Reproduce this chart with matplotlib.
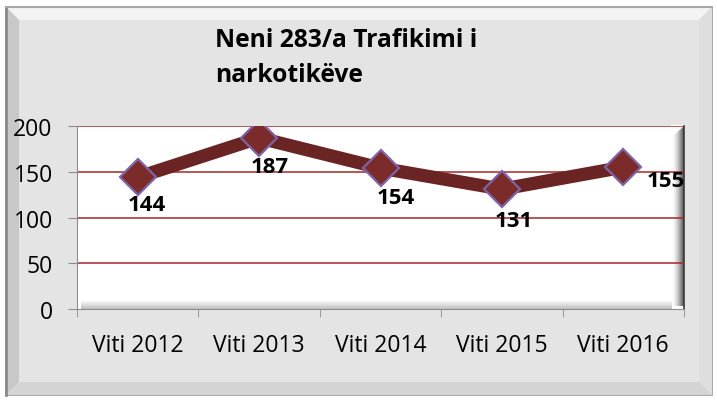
import matplotlib.pyplot as plt
from matplotlib.patches import Rectangle, Polygon
import numpy as np

categories = ["Viti 2012", "Viti 2013", "Viti 2014", "Viti 2015", "Viti 2016"]
values = [144, 187, 154, 131, 155]
yticks = [0, 50, 100, 150, 200]
title_lines = ["Neni 283/a Trafikimi i", "narkotikëve"]
# value-label offsets from each marker, in pixels (right, up)
label_offsets = [(9, -27), (11, -29), (15, -29), (12, -31), (43, -13)]

plt.rcParams['font.family'] = ['Open Sans', 'DejaVu Sans']

W, H = 717, 402
fig = plt.figure(figsize=(W / 100, H / 100), dpi=100)
fig.patch.set_facecolor('white')

# background layer in pixel coordinates (y down) for the bevelled frame
bg = fig.add_axes([0, 0, 1, 1], zorder=-10)
bg.axis('off')

L, T, R, B = 6, 8, 712, 396
bw = 13
bg.add_patch(Rectangle((L, T), R - L, B - T, facecolor='#e4e4e4', edgecolor='#9a9a9a', lw=1.2))
bg.add_patch(Polygon([(L, T), (R, T), (R - bw, T + bw), (L + bw, T + bw)], facecolor='#f3f3f3', edgecolor='none'))
bg.add_patch(Polygon([(L, T), (L + bw, T + bw), (L + bw, B - bw), (L, B)], facecolor='#c8c8c8', edgecolor='none'))
bg.add_patch(Polygon([(R, T), (R, B), (R - bw, B - bw), (R - bw, T + bw)], facecolor='#dedede', edgecolor='none'))
bg.add_patch(Polygon([(L, B), (R, B), (R - bw, B - bw), (L + bw, B - bw)], facecolor='#d4d4d4', edgecolor='none'))
bg.plot([L, L], [T, B], color='#8a8a8a', lw=2)
bg.plot([L, R], [T, T], color='#a8a8a8', lw=1.5)

# plot area in pixels
px0, px1, py0, py1 = 77, 684, 127, 310
wall = 12
bg.add_patch(Rectangle((px0, py0), px1 - px0, py1 - py0, facecolor='white', edgecolor='none'))
# right wall shading
grad = np.linspace(0, 1, 64)[None, :] ** 1.6
bg.imshow(np.dstack([1 - 0.7 * grad] * 3), extent=(px1 - wall, px1, py1 - 3, py0),
          aspect='auto', interpolation='bilinear', zorder=2)
bg.add_patch(Polygon([(px1 - wall - 1, py0 - 1), (px1 + 1, py0 - 1), (px1 - wall - 1, py0 + wall)],
                     facecolor='white', edgecolor='none', zorder=2.5))
bg.plot([px1, px1], [py0, py1], color='#3a3a3a', lw=1.2, zorder=3)
# floor shading
gradb = np.linspace(0, 1, 16)[:, None]
bg.imshow(np.dstack([np.repeat(1 - 0.25 * gradb, 4, axis=1)] * 3),
          extent=(px0 + 4, px1 - wall, py1, py1 - 9), aspect='auto', interpolation='bilinear', zorder=2)
bg.set_xlim(0, W)
bg.set_ylim(H, 0)

ax = fig.add_axes([px0 / W, 1 - py1 / H, (px1 - px0) / W, (py1 - py0) / H], zorder=1)
ax.patch.set_alpha(0)

x = np.arange(len(categories))
ax.set_xlim(-0.5, len(categories) - 0.5)
ax.set_ylim(0, 200)

for yv in yticks[1:]:
    ax.axhline(yv, color='#a0282a', lw=1.1, zorder=1)

ax.plot(x, values, color='#6a2424', lw=9.5, solid_joinstyle='miter', zorder=3)
ax.plot(x, values, linestyle='none', marker='D', markersize=18.5,
        markerfacecolor='#7b2c2a', markeredgecolor='#7e64a6', markeredgewidth=1.6, zorder=4)

for xi, v, (dx, dy) in zip(x, values, label_offsets):
    ax.annotate(str(v), (xi, v), xytext=(dx, dy), textcoords='offset pixels',
                ha='center', va='center', fontsize=16, fontweight='bold',
                color='black', zorder=5)

ax.set_yticks(yticks)
ax.set_yticklabels([str(t) for t in yticks], fontsize=16.5)
ax.set_xticks(x)
ax.set_xticklabels(categories, fontsize=16.5)
ax.set_xticks(np.arange(len(categories) + 1) - 0.5, minor=True)
ax.tick_params(axis='x', which='major', length=0, pad=17.5)
ax.tick_params(axis='x', which='minor', length=6, color='#8c8c8c', direction='out')
ax.tick_params(axis='y', length=6.5, color='#8c8c8c', pad=11)

for s in ['top', 'right']:
    ax.spines[s].set_visible(False)
ax.spines['left'].set_color('#8c8c8c')
ax.spines['bottom'].set_color('#8c8c8c')

for line, base in zip(title_lines, [47, 82]):
    fig.text(215 / W, 1 - base / H, line, ha='left', va='baseline', fontsize=17.7,
             fontweight='bold')

fig.savefig('out.png', dpi=100)
